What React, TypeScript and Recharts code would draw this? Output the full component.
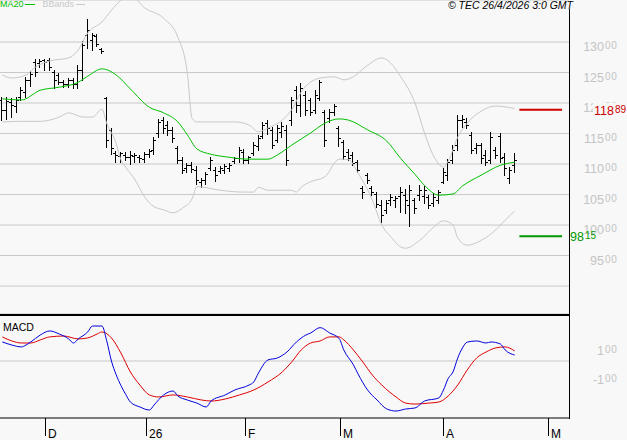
import { ComposedChart, Bar, Line, XAxis, YAxis, CartesianGrid, ReferenceLine } from "recharts";

// daily bars: open, high, low, close
const ohlc: [number, number, number, number][] = [
  [120.5, 121.0, 117.2, 118.9], [118.9, 121.0, 117.4, 120.3], [120.2, 120.8, 117.7, 119.7], [119.5, 121.0, 118.5, 120.5],
  [121.0, 122.6, 120.5, 122.1], [121.8, 124.3, 121.0, 123.8], [123.8, 125.2, 122.8, 124.8], [126.7, 127.2, 124.4, 125.1],
  [126.6, 127.2, 125.9, 126.9], [127.0, 127.2, 125.4, 126.7], [127.0, 127.4, 125.4, 125.9], [125.1, 125.4, 122.5, 123.8],
  [124.6, 124.9, 123.1, 123.4], [123.4, 123.8, 122.6, 123.1], [123.1, 124.1, 122.6, 123.8], [123.8, 124.1, 122.5, 123.1],
  [123.1, 126.2, 122.5, 125.4], [125.4, 130.2, 123.8, 129.5], [131.2, 133.8, 129.0, 132.0], [130.3, 131.5, 128.7, 131.2],
  [131.0, 131.3, 129.3, 129.7], [128.9, 129.0, 128.2, 128.5], [120.8, 121.0, 112.8, 113.9], [115.6, 115.9, 111.6, 112.6],
  [111.8, 112.1, 110.3, 111.5], [111.3, 112.0, 110.3, 111.8], [111.5, 112.0, 110.7, 111.1], [111.1, 112.1, 110.0, 111.5],
  [111.3, 111.8, 110.3, 111.5], [111.1, 111.5, 110.3, 111.0], [110.8, 112.0, 110.3, 111.6], [111.6, 112.5, 111.2, 112.1],
  [112.3, 114.4, 111.6, 114.0], [115.1, 117.4, 114.4, 116.9], [117.2, 117.7, 115.1, 115.9], [116.4, 117.1, 114.8, 115.6],
  [115.6, 116.1, 113.6, 114.3], [112.6, 113.0, 110.2, 110.7], [110.7, 111.1, 108.5, 109.0], [109.4, 110.2, 108.7, 109.8],
  [109.8, 110.3, 108.7, 109.2], [109.0, 109.7, 106.7, 107.4], [107.0, 107.7, 106.2, 107.4], [107.4, 108.7, 106.7, 108.4],
  [109.4, 111.1, 109.0, 110.7], [109.0, 109.5, 107.2, 108.2], [108.9, 109.7, 108.5, 109.3], [109.0, 110.0, 108.5, 109.7],
  [109.4, 110.2, 108.9, 109.8], [110.5, 111.1, 110.2, 111.0], [111.0, 112.8, 110.3, 112.3], [112.0, 112.5, 110.2, 110.7],
  [110.7, 111.3, 110.2, 111.2], [111.8, 113.6, 111.5, 113.1], [113.0, 114.8, 112.3, 114.3], [114.6, 116.9, 114.3, 116.4],
  [116.7, 117.2, 114.9, 115.9], [115.6, 116.1, 112.6, 113.1], [113.9, 116.4, 113.6, 115.9], [115.3, 116.9, 114.4, 116.2],
  [115.6, 116.4, 109.9, 110.7], [117.2, 121.0, 116.4, 120.5], [122.1, 122.8, 118.5, 119.7], [119.7, 123.3, 117.9, 122.5],
  [121.3, 122.0, 118.0, 118.9], [120.5, 120.8, 118.0, 118.5], [118.9, 122.1, 118.4, 121.3], [120.8, 123.8, 120.5, 123.4],
  [118.5, 118.9, 113.0, 113.9], [117.5, 119.0, 116.9, 118.5], [118.5, 119.8, 118.0, 119.5], [115.9, 116.2, 113.0, 114.3],
  [113.6, 113.9, 110.8, 111.3], [112.0, 112.5, 110.7, 111.0], [111.5, 112.0, 109.8, 110.2], [110.3, 110.7, 108.7, 109.0],
  [106.1, 106.4, 104.4, 105.4], [108.2, 108.5, 106.9, 107.4], [106.1, 106.4, 104.9, 105.4], [105.1, 105.4, 103.0, 103.4],
  [103.3, 104.1, 100.5, 101.6], [102.5, 104.1, 102.0, 103.6], [104.1, 105.1, 103.3, 104.6], [104.1, 104.8, 103.0, 104.4],
  [104.8, 106.2, 102.1, 105.4], [104.9, 105.9, 102.0, 104.1], [103.3, 106.6, 99.8, 105.7], [104.1, 104.4, 102.0, 102.8],
  [104.9, 106.6, 104.1, 105.7], [104.8, 106.4, 103.6, 105.7], [104.6, 104.9, 102.8, 103.3], [103.6, 105.2, 103.1, 104.6],
  [104.1, 105.7, 103.6, 105.4], [107.0, 109.3, 106.9, 108.7], [108.2, 110.8, 107.4, 110.3], [110.7, 113.1, 110.2, 112.3],
  [113.1, 118.0, 112.3, 117.2], [117.2, 118.0, 116.1, 117.4], [116.9, 117.5, 115.9, 116.4], [114.8, 115.2, 111.8, 112.3],
  [112.6, 113.4, 111.8, 113.1], [113.1, 113.4, 110.2, 111.0], [111.5, 112.3, 109.8, 110.3], [110.7, 115.2, 110.2, 114.4],
  [112.3, 112.8, 111.0, 111.5], [114.6, 115.1, 110.3, 111.0], [111.2, 111.8, 108.2, 109.3], [107.7, 109.5, 106.9, 109.0],
  [109.8, 111.8, 108.7, 110.7],
];

// [bar index, value]
const ma20: [number, number][] = [
  [0, 120.7], [4, 120.5], [8, 122.1], [12, 122.6], [16, 123.4], [18, 124.4], [21, 125.6], [24, 124.6], [27, 122.3],
  [31, 119.3], [34, 118.4], [37, 116.9], [39, 114.8], [41, 112.5], [44, 111.6], [47, 111.2], [52, 110.8], [56, 110.8],
  [58, 111.5], [61, 113.1], [65, 115.1], [68, 116.7], [71, 117.4], [73, 117.2], [77, 115.6], [81, 113.8], [84, 110.9],
  [87, 108.3], [89, 106.5], [92, 104.9], [95, 105.1], [97, 106.4], [101, 108.2], [105, 109.8], [108, 110.3],
];
const bbUpper: [number, number][] = [
  [0, 124.6], [2, 124.1], [5, 124.6], [7, 125.9], [10, 126.9], [14, 127.4], [16, 128.7], [18, 131.5], [21, 133.3],
  [23, 135.2], [24, 136.1], [27, 137.7], [30, 135.6], [34, 133.9], [37, 130.8], [39, 124.9], [40, 117.5], [41, 116.9],
  [44, 116.9], [49, 116.9], [52, 116.4], [54, 115.3], [56, 115.9], [59, 117.2], [61, 118.9], [63, 121.8], [67, 124.1],
  [70, 124.3], [72, 123.8], [74, 124.3], [77, 126.2], [80, 127.4], [81, 127.1], [84, 124.3], [87, 120.0], [89, 115.1],
  [91, 111.2], [93, 109.5], [94, 110.5], [96, 114.4], [98, 116.7], [101, 118.7], [104, 119.5], [108, 119.1],
];
const bbLower: [number, number][] = [
  [0, 116.9], [4, 117.0], [8, 117.0], [12, 117.7], [14, 118.4], [17, 117.7], [19, 117.7], [21, 119.0], [22, 116.7],
  [24, 113.4], [25, 110.7], [26, 109.5], [28, 107.4], [30, 104.6], [32, 103.0], [34, 102.5], [36, 102.0], [38, 102.8],
  [40, 104.3], [41, 106.3], [46, 105.7], [51, 105.4], [53, 105.4], [54, 106.2], [56, 105.7], [61, 105.7], [62, 105.4],
  [63, 106.2], [65, 107.1], [68, 107.9], [71, 110.8], [73, 110.7], [75, 108.5], [78, 104.1], [80, 100.0], [82, 98.0],
  [84, 96.4], [85, 96.2], [88, 97.5], [91, 99.7], [93, 100.7], [95, 100.0], [96, 97.9], [98, 96.7], [101, 97.5],
  [104, 99.2], [106, 100.8], [108, 102.3],
];
const macdLine: [number, number][] = [
  [0, 1.31], [2, 1.1], [4, 0.97], [5, 1.1], [6, 1.31], [8, 1.79], [10, 2.07], [12, 1.86], [14, 1.52], [15, 1.24],
  [16, 1.52], [18, 2.0], [19, 2.41], [21, 2.41], [22, 1.4], [23, 0.0], [24, -0.95], [25, -1.69], [26, -2.3], [27, -2.83],
  [29, -3.17], [31, -3.38], [32, -3.03], [34, -2.34], [36, -2.07], [37, -2.41], [39, -2.69], [41, -2.9], [43, -3.17],
  [44, -2.76], [47, -2.34], [49, -2.0], [52, -1.66], [53, -1.45], [54, -0.83], [56, 0.07], [58, 0.21], [60, 0.62],
  [62, 1.31], [64, 1.79], [65, 1.93], [67, 2.3], [69, 1.93], [71, 1.55], [72, 0.75], [74, -0.26], [75, -0.9], [77, -2.0],
  [79, -2.69], [81, -3.3], [83, -3.45], [85, -3.31], [87, -3.24], [89, -2.76], [92, -2.55], [93, -2.0], [94, -1.2],
  [95, -0.76], [96, 0.2], [97, 0.9], [98, 1.3], [100, 1.38], [102, 1.24], [103, 1.31], [105, 1.17], [106, 0.76],
  [108, 0.41],
];
const signalLine: [number, number][] = [
  [0, 1.66], [2, 1.38], [4, 1.24], [6, 1.24], [8, 1.45], [10, 1.66], [13, 1.72], [16, 1.52], [18, 1.59], [20, 1.86],
  [21, 2.0], [23, 1.59], [25, 0.55], [27, -0.76], [29, -1.66], [31, -2.34], [33, -2.48], [36, -2.34], [39, -2.48],
  [42, -2.69], [44, -2.76], [47, -2.62], [50, -2.34], [53, -2.0], [56, -1.45], [59, -0.76], [61, -0.07], [63, 0.76],
  [65, 1.24], [67, 1.38], [69, 1.66], [71, 1.66], [72, 1.45], [74, 0.76], [76, -0.07], [78, -0.97], [80, -1.66],
  [83, -2.48], [85, -2.9], [87, -2.97], [90, -2.9], [92, -2.83], [94, -2.41], [96, -1.66], [98, -0.62], [100, 0.21],
  [102, 0.62], [104, 0.9], [106, 0.97], [108, 0.69],
];

const priceTicks = [90, 95, 100, 105, 110, 115, 120, 125, 130];
const macdTicks = [-1, 1];
const monthTicks = [9, 30.3, 51.2, 71.2, 93.1, 115.2];
const monthLabels = ["D", "26", "F", "M", "A", "M"];
const resistance = 118.89;
const support = 98.15;

const X_DOMAIN: [number, number] = [-0.49, 119.46];
const PRICE_DOMAIN: [number, number] = [85.42, 136.89];
const BG = "#f8f8f8";
const GRID = "#c8c8c8";
const SANS = "'Liberation Sans', Arial, sans-serif";
const NARROW = "'Liberation Sans Narrow', 'Arial Narrow', 'Liberation Sans', sans-serif";

const lookup = (pts: [number, number][]) => new Map(pts);
const maMap = lookup(ma20);
const upMap = lookup(bbUpper);
const loMap = lookup(bbLower);
const macdMap = lookup(macdLine);
const sigMap = lookup(signalLine);

const priceRows = ohlc.map(([o, h, l, c], i) => ({
  i, o, h, l, c,
  ma: maMap.get(i) ?? null,
  up: upMap.get(i) ?? null,
  lo: loMap.get(i) ?? null,
}));
const macdRows = ohlc.map((_, i) => ({
  i,
  macd: macdMap.get(i) ?? null,
  sig: sigMap.get(i) ?? null,
}));

const OhlcShape = (p: any) => {
  const { x, y, width, height, payload } = p;
  if (height == null || !payload) return <g />;
  const cx = Math.floor(x + width / 2) + 0.5;
  const span = payload.h - payload.l || 1;
  const yo = Math.round(y + ((payload.h - payload.o) / span) * height) + 0.5;
  const yc = Math.round(y + ((payload.h - payload.c) / span) * height) + 0.5;
  return (
    <g stroke="#000" strokeWidth={1}>
      <line x1={cx} x2={cx} y1={Math.round(y)} y2={Math.round(y + height) + 1} />
      <line x1={cx - 2.5} x2={cx} y1={yo} y2={yo} />
      <line x1={cx} x2={cx + 2.5} y1={yc} y2={yc} />
    </g>
  );
};

// "130" + raised "00", the way the scale writes its decimals
const ScaleTick = (props: any) => {
  const { x, y, payload } = props;
  if (payload.value === 90) return <g />;
  const [a, b] = payload.value.toFixed(2).split(".");
  return (
    <g fill="#c4c4c4">
      <text x={x + 35} y={y + 9} fontSize={12.5} fontFamily={NARROW} textAnchor="end">{a}</text>
      <text x={x + 36} y={y + 7} fontSize={10} fontFamily={SANS} letterSpacing={0.8}>{b}</text>
    </g>
  );
};

const MonthTick = (props: any) => {
  const { x, y, payload } = props;
  const label = monthLabels[monthTicks.indexOf(payload.value)];
  const tx = Math.floor(x) + 0.5;
  return (
    <g>
      <line x1={tx} x2={tx} y1={y} y2={y + 18} stroke="#000" />
      <text x={tx + 2.5} y={y + 20} fontSize={12} fontFamily={SANS} fill="#000">{label}</text>
    </g>
  );
};

const LevelLabel = (props: any) => {
  const { viewBox, level, color, dx, cover } = props;
  const [a, b] = level.toFixed(2).split(".");
  const x = viewBox.x + viewBox.width + dx;
  const y = viewBox.y;
  return (
    <g fill={color}>
      {cover && <rect x={x - 1} y={y - 7} width={34} height={14} fill={BG} />}
      <text x={x} y={y + 5} fontSize={12.5} fontFamily={NARROW}>
        {a}
        <tspan fontSize={10} fontFamily={SANS} dx={1} dy={-2}>{b}</tspan>
      </text>
    </g>
  );
};

export default function App() {
  return (
    <div style={{ position: "absolute", left: 0, top: 0, width: 627, height: 440, background: BG, overflow: "hidden" }}>
      <div style={{ position: "absolute", left: 0, top: 0 }}>
        <ComposedChart width={627} height={316} data={priceRows} margin={{ top: 0, right: 0, bottom: 2, left: 0 }}>
          <CartesianGrid vertical={false} stroke={GRID} />
          <XAxis type="number" dataKey="i" domain={X_DOMAIN} allowDataOverflow hide />
          <YAxis
            orientation="right"
            type="number"
            width={58}
            domain={PRICE_DOMAIN}
            allowDataOverflow
            ticks={priceTicks}
            interval={0}
            axisLine={false}
            tickLine={false}
            tickSize={0}
            tickMargin={0}
            tick={<ScaleTick />}
          />
          <Line dataKey="up" type="monotone" stroke={GRID} strokeWidth={1} dot={false} connectNulls isAnimationActive={false} />
          <Line dataKey="lo" type="monotone" stroke={GRID} strokeWidth={1} dot={false} connectNulls isAnimationActive={false} />
          <Line dataKey="ma" type="monotone" stroke="#00c000" strokeWidth={1} dot={false} connectNulls isAnimationActive={false} />
          <Bar dataKey={(d: any) => [d.l, d.h]} barSize={4} shape={<OhlcShape />} isAnimationActive={false} />
        </ComposedChart>
      </div>

      {/* level lines on top, so their labels sit over the scale */}
      <div style={{ position: "absolute", left: 0, top: 0 }}>
        <ComposedChart width={627} height={316} data={priceRows} margin={{ top: 0, right: 58, bottom: 2, left: 0 }}>
          <XAxis type="number" dataKey="i" domain={X_DOMAIN} allowDataOverflow hide />
          <YAxis type="number" domain={PRICE_DOMAIN} allowDataOverflow hide />
          <ReferenceLine
            segment={[{ x: 109, y: resistance }, { x: 118, y: resistance }]}
            stroke="#cc0000"
            strokeWidth={2}
            label={<LevelLabel level={resistance} color="#cc0000" dx={32} cover />}
          />
          <ReferenceLine
            segment={[{ x: 109, y: support }, { x: 118, y: support }]}
            stroke="#009900"
            strokeWidth={2}
            label={<LevelLabel level={support} color="#009900" dx={8} />}
          />
        </ComposedChart>
      </div>

      <div style={{ position: "absolute", left: 0, top: 316 }}>
        <ComposedChart width={627} height={124} data={macdRows} margin={{ top: 0, right: 0, bottom: 0, left: 0 }}>
          <XAxis
            type="number"
            dataKey="i"
            domain={X_DOMAIN}
            allowDataOverflow
            ticks={monthTicks}
            interval={0}
            height={22}
            axisLine={{ stroke: "#000" }}
            tickLine={false}
            tickSize={0}
            tickMargin={0}
            tick={<MonthTick />}
          />
          <YAxis
            orientation="right"
            type="number"
            width={58}
            domain={[-3.93, 3.1]}
            allowDataOverflow
            ticks={macdTicks}
            interval={0}
            axisLine={false}
            tickLine={false}
            tickSize={0}
            tickMargin={0}
            tick={<ScaleTick />}
          />
          <ReferenceLine y={0} stroke={GRID} />
          <Line dataKey="sig" type="monotone" stroke="#dd0000" strokeWidth={1} dot={false} connectNulls isAnimationActive={false} />
          <Line dataKey="macd" type="monotone" stroke="#0000dd" strokeWidth={1} dot={false} connectNulls isAnimationActive={false} />
        </ComposedChart>
      </div>

      {/* panel borders */}
      <div style={{ position: "absolute", left: 0, top: 314, width: 570, height: 2, background: "#000" }} />
      <div style={{ position: "absolute", left: 569, top: 9, width: 1, height: 410, background: "#000" }} />

      {/* header */}
      <div style={{ position: "absolute", left: 0, top: 0, fontFamily: SANS, fontSize: 9, lineHeight: "9px", display: "flex", alignItems: "center" }}>
        <span style={{ color: "#00c000" }}>MA20</span>
        <span style={{ display: "inline-block", width: 10, height: 1, background: "#00c000", margin: "0 8px 0 1px" }} />
        <span style={{ color: GRID }}>BBands</span>
        <span style={{ display: "inline-block", width: 9, height: 1, background: GRID, marginLeft: 2 }} />
      </div>
      <div style={{ position: "absolute", right: 54, top: 0, fontFamily: SANS, fontSize: 10.5, fontStyle: "italic", lineHeight: "10px", color: "#000", whiteSpace: "nowrap" }}>
        © TEC 26/4/2026 3:0 GMT
      </div>
      <div style={{ position: "absolute", left: 3, top: 321, fontFamily: SANS, fontSize: 10.5, lineHeight: "12px", color: "#000" }}>
        MACD
      </div>
    </div>
  );
}
